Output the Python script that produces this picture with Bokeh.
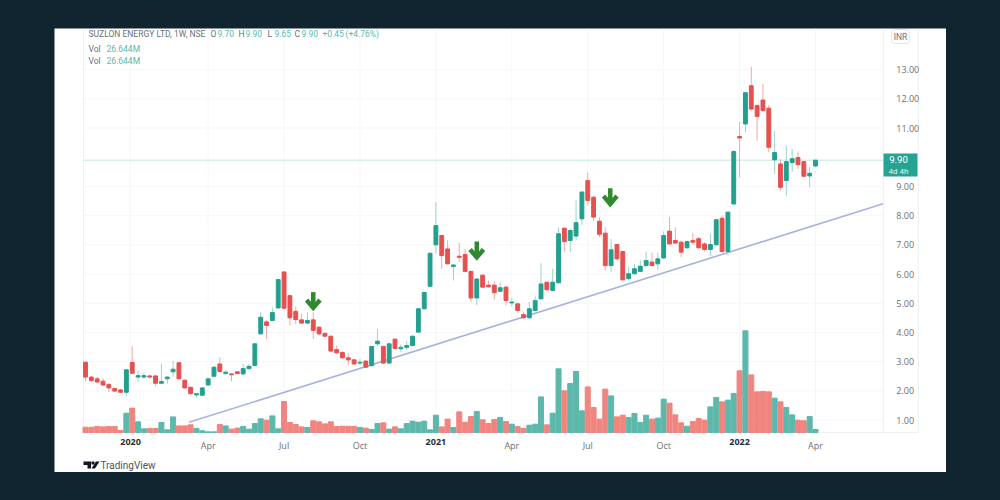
import pandas as pd
from bokeh.embed import file_html
from bokeh.models import (BoxAnnotation, ColumnDataSource, FixedTicker, Label, LinearAxis,
                          NumeralTickFormatter, PolyAnnotation, Range1d)
from bokeh.plotting import figure
from bokeh.resources import INLINE

first_week = "2019-11-11"
opens = [2.98,2.47,2.41,2.33,2.22,2.08,2.03,1.95,2.97,2.47,2.47,2.51,2.51,2.26,2.41,2.65,2.96,2.36,2.12,1.86,1.85,2.20,2.50,2.92,2.59,2.58,2.65,2.58,2.76,2.87,3.95,4.36,4.41,4.84,6.07,5.26,4.72,4.43,4.32,4.43,4.18,3.97,3.87,3.41,3.31,3.13,3.06,
         2.95,3.02,2.86,3.61,3.52,2.95,3.77,3.44,3.49,3.55,4.01,4.81,5.58,7.00,7.32,6.86,6.26,6.61,6.67,6.09,5.18,5.96,5.62,5.62,5.41,5.55,5.01,4.98,4.61,4.50,4.75,5.15,5.72,5.44,5.70,7.57,7.15,7.30,
         7.89,9.20,8.63,7.81,7.40,6.29,7.01,6.77,5.84,6.01,6.09,6.29,6.41,6.35,6.55,7.47,7.15,7.09,6.90,7.15,7.21,7.03,6.84,7.00,7.91,6.77,
         8.40,10.71,11.14,12.45,11.77,11.96,11.68,9.91,9.77,9.20,9.82,9.99,9.85,9.36,9.70]
highs = [2.98,2.52,2.47,2.44,2.26,2.10,2.06,2.72,3.52,2.70,2.64,2.56,2.55,2.92,2.49,3.02,2.98,2.39,2.15,1.92,2.12,2.43,2.84,3.15,2.70,2.60,2.67,2.92,2.92,3.61,4.69,4.43,4.86,5.83,6.10,5.28,4.89,4.64,4.69,4.69,4.20,3.99,3.89,3.55,3.36,3.29,3.10,
         3.10,3.04,3.52,4.12,3.54,3.63,3.79,3.59,3.70,3.89,4.81,5.38,6.74,8.46,7.34,7.15,6.33,7.07,6.86,6.12,5.87,5.99,5.78,5.75,5.72,5.61,5.18,5.00,4.69,5.04,5.23,6.37,5.74,6.18,7.60,7.59,7.55,8.52,
         8.83,9.47,8.69,7.95,7.60,7.20,7.03,6.79,6.26,6.35,6.46,6.77,6.73,6.73,7.46,7.95,7.60,7.15,7.15,7.40,7.26,7.09,7.38,7.89,8.00,8.14,
         10.23,11.22,12.22,13.10,11.83,12.51,11.79,10.91,9.94,10.40,10.28,10.20,9.88,9.66,9.90]
lows = [2.33,2.30,2.26,2.15,1.95,1.96,1.92,1.82,2.58,2.33,2.41,2.41,2.15,2.24,2.24,2.49,2.39,2.07,1.87,1.75,1.81,2.18,2.47,2.64,2.56,2.33,2.56,2.55,2.72,2.83,3.93,3.78,4.38,4.81,4.78,4.24,4.29,4.29,4.29,3.78,3.89,3.84,3.32,3.27,3.10,2.89,2.89,
        2.87,2.78,2.83,3.55,2.92,2.92,3.43,3.32,3.40,3.53,3.99,4.79,5.56,6.69,6.18,6.33,5.78,6.41,6.07,5.04,4.92,5.53,5.53,5.12,5.38,4.92,4.89,4.66,4.48,4.48,4.73,5.13,5.44,5.41,5.68,6.75,6.75,7.15,
        7.67,8.35,7.83,7.26,6.12,6.07,6.46,5.78,5.78,5.97,6.07,6.23,6.27,6.15,6.52,7.01,7.03,6.58,6.86,7.00,6.86,6.77,6.61,6.98,6.75,6.64,
        8.38,9.31,10.86,11.60,10.57,11.54,10.17,9.43,8.86,8.69,9.49,9.60,9.31,8.97,9.65]
closes = [2.47,2.35,2.30,2.20,2.10,1.99,1.95,2.72,2.60,2.52,2.52,2.47,2.26,2.32,2.47,2.74,2.41,2.10,1.90,1.90,2.10,2.41,2.81,2.66,2.64,2.55,2.59,2.76,2.84,3.61,4.52,4.24,4.68,5.81,4.83,4.50,4.44,4.32,4.41,4.07,3.95,3.87,3.36,3.30,3.13,3.06,2.92,
          2.98,2.81,3.52,3.70,2.95,3.61,3.45,3.49,3.55,3.87,4.81,5.37,6.71,7.66,6.63,6.35,6.31,6.57,6.09,5.18,5.83,5.55,5.56,5.36,5.53,5.09,5.04,4.75,4.50,4.81,5.09,5.66,5.46,5.72,7.38,7.11,7.49,7.76,
          8.81,8.52,7.95,7.36,6.29,6.83,6.52,5.80,6.01,6.18,6.27,6.46,6.29,6.52,7.32,7.03,7.06,6.75,7.11,7.09,6.90,6.84,7.01,7.86,6.77,8.12,
          10.20,10.66,12.21,11.65,11.40,11.60,10.34,10.16,8.97,9.85,9.95,9.75,9.35,9.45,9.90]
volumes_m = [47,47,53,50,53,53,18,172,217,95,33,36,36,89,24,139,59,59,68,36,15,6,6,71,59,30,39,53,30,80,122,110,148,33,276,89,71,50,45,104,95,77,95,53,56,56,53,
             45,39,27,80,86,30,50,33,80,101,92,101,24,154,50,119,45,184,92,142,187,113,80,116,134,98,74,53,36,65,74,317,68,172,567,371,436,543,193,406,223,119,386,326,139,
             154,134,169,89,154,119,128,297,261,157,86,56,98,125,110,228,312,273,288,347,549,905,513,362,365,362,306,273,223,157,110,104,142,26.644]

price_ticks = [1, 2, 3, 4, 5, 6, 7, 8, 9, 11, 12, 13]
month_tick_dates = ["2020-04-06", "2020-07-06", "2020-10-05", "2021-04-05", "2021-07-05", "2021-10-04", "2022-04-04"]
month_tick_labels = ["Apr", "Jul", "Oct", "Apr", "Jul", "Oct", "Apr"]
year_tick_dates = ["2020-01-04", "2021-01-04", "2022-01-03"]
year_tick_labels = ["2020", "2021", "2022"]
last_price = 9.90
trend_dates = ["2020-03-14", "2022-06-24"]
trend_prices = [0.92, 8.41]
arrow_dates = ["2020-08-10", "2021-02-22", "2021-08-01"]
arrow_tips = [4.84, 6.57, 8.40]

GREEN, RED = "#22a08f", "#e6504f"
WICK_G, WICK_R = "#9dd3ca", "#eeaaa7"
VOL_G, VOL_R = "#5db8ab", "#f0857f"
GREY, TEAL = "#6a7079", "#5cb8ab"
GRIDC, EDGE = "#f6f7f9", "#eef0f3"
WEEK = 7 * 24 * 3600 * 1000

dates = pd.date_range(first_week, periods=len(closes), freq="7D")
up = [c >= o for o, c in zip(opens, closes)]
src = ColumnDataSource(dict(
    date=dates, open=opens, high=highs, low=lows, close=closes, vol=volumes_m,
    top=[max(o, c) for o, c in zip(opens, closes)],
    bottom=[min(o, c) for o, c in zip(opens, closes)],
    body=[GREEN if u else RED for u in up],
    wick=[WICK_G if u else WICK_R for u in up],
    volc=[VOL_G if u else VOL_R for u in up],
))


def ms(d):
    return int(pd.Timestamp(d).value // 10**6)


t0 = ms(first_week)
xL, xR, xTag = t0 - 0.34 * WEEK, t0 + 136.6 * WEEK, t0 + 142.6 * WEEK
yB, yT = 0.572, 14.41

p = figure(width=892, height=444, x_axis_type="datetime",
           x_axis_location=None, y_axis_location=None,
           output_backend="svg", toolbar_location=None,
           x_range=Range1d(t0 - 5.308 * WEEK, t0 + 147.43 * WEEK),
           y_range=Range1d(-0.798, yT),
           min_border_left=0, min_border_right=0, min_border_top=0, min_border_bottom=0)
p.margin = (28, 0, 0, 54)
p.extra_y_ranges = {"vol": Range1d(-356, 3596)}
p.background_fill_color = "#ffffff"
p.border_fill_color = "#ffffff"
p.outline_line_color = None
p.grid.visible = False

tick_x = [ms(d) for d in month_tick_dates + year_tick_dates]
p.segment(x0=tick_x, x1=tick_x, y0=yB, y1=yT, line_color=GRIDC, line_width=1)
p.segment(x0=xL, x1=xR, y0=price_ticks, y1=price_ticks, line_color=GRIDC, line_width=1)
p.segment(x0=[xL, xR, xTag], x1=[xL, xR, xTag], y0=yB, y1=yT, line_color=EDGE, line_width=1)
p.segment(x0=xL, x1=xTag, y0=yB, y1=yB, line_color=EDGE, line_width=1)

p.vbar(x="date", top="vol", bottom=0, width=0.86 * WEEK, color="volc", source=src, y_range_name="vol")
p.line(pd.to_datetime(trend_dates), trend_prices, line_color="#a8b3dc", line_width=1.6)
p.line([xL, xR], [last_price, last_price], line_color="#c4e6e0", line_width=1)
p.segment(x0="date", x1="date", y0="low", y1="high", color="wick", line_width=1, source=src)
p.vbar(x="date", top="top", bottom="bottom", width=0.66 * WEEK, color="body", source=src)

for d, tip in zip(arrow_dates, arrow_tips):
    c = ms(d)
    p.line([c, c], [tip + 0.54, tip], line_color="#2f8a2f", line_width=4.5)
    p.line([c - 1.15 * WEEK, c, c + 1.15 * WEEK], [tip + 0.27, tip, tip + 0.27],
           line_color="#2f8a2f", line_width=4.5, line_join="miter")


def style_axis(a, color, bold=False):
    a.major_label_text_font = "Open Sans"
    a.major_label_text_font_size = "9px"
    a.major_label_text_color = color
    a.major_tick_line_color = None
    a.minor_tick_line_color = None
    a.axis_line_color = None
    if bold:
        a.major_label_text_font_style = "bold"


mo = LinearAxis(fixed_location=yB, ticker=FixedTicker(ticks=[ms(d) for d in month_tick_dates]),
                major_label_standoff=0)
mo.major_label_overrides = {ms(d): t for d, t in zip(month_tick_dates, month_tick_labels)}
style_axis(mo, GREY)
p.add_layout(mo, "below")

yr = LinearAxis(fixed_location=yB, ticker=FixedTicker(ticks=[ms(d) for d in year_tick_dates]),
                major_label_standoff=0)
yr.major_label_overrides = {ms(d): t for d, t in zip(year_tick_dates, year_tick_labels)}
style_axis(yr, "#2a2e39", bold=True)
p.add_layout(yr, "below")

ay = LinearAxis(fixed_location=xR, ticker=FixedTicker(ticks=price_ticks),
                formatter=NumeralTickFormatter(format="0.00"), major_label_standoff=7)
style_axis(ay, GREY)
p.add_layout(ay, "right")

OX, OY = 54, 28


def text(x, y, s, color=GREY, size="8.5px", align="left", style="normal", font="Roboto", **kw):
    p.add_layout(Label(x=x - OX, y=y - OY, x_units="canvas", y_units="canvas", text=s, text_color=color,
                       text_font=font, text_font_size=size, text_align=align, text_baseline="middle",
                       text_font_style=style, **kw))


p.add_layout(BoxAnnotation(left=883 - OX, right=917 - OX, top=153 - OY, bottom=176 - OY,
                           left_units="canvas", right_units="canvas", top_units="canvas", bottom_units="canvas",
                           fill_color="#26a493", fill_alpha=1, line_color=None))
text(898, 159, "9.90", "#ffffff", "9.5px", "center")
text(898, 170.5, "4d 4h", "#e8f6f3", "8px", "center")
text(900, 36, "INR", GREY, "8.5px", "center", border_line_color="#e2e4e8", padding=2, border_radius=3)

text(88, 33, "SUZLON ENERGY LTD, 1W, NSE", GREY)
for x, letter, value in [(210, "O", "9.70"), (238, "H", "9.90"), (267, "L", "9.65"), (294, "C", "9.90")]:
    text(x, 33, letter, GREY)
    text(x + 7, 33, value, TEAL)
text(322, 33, "+0.45", TEAL)
text(345, 33, "(+4.76%)", TEAL)
text(88, 48, "Vol", GREY)
text(106, 48, "26.644M", TEAL)
text(88, 60, "Vol", GREY)
text(106, 60, "26.644M", TEAL)
text(100, 465, "TradingView", "#50535e", "10px")

for xs, ys in [([83, 90.5, 90.5, 87, 87, 83], [461, 461, 468, 468, 464.5, 464.5]),
               ([91, 94, 94, 91], [461, 461, 464, 464]),
               ([95.5, 99, 94.5, 91], [461, 461, 468, 468])]:
    p.add_layout(PolyAnnotation(xs=[x - OX for x in xs], ys=[y - OY for y in ys],
                                xs_units="canvas", ys_units="canvas",
                                fill_color="#131722", fill_alpha=1, line_color=None))

html = file_html(p, INLINE)
html = html.replace("<head>", "<head><style>html,body{background:#10252f;margin:0;}</style>", 1)
open("out.html", "w").write(html)
